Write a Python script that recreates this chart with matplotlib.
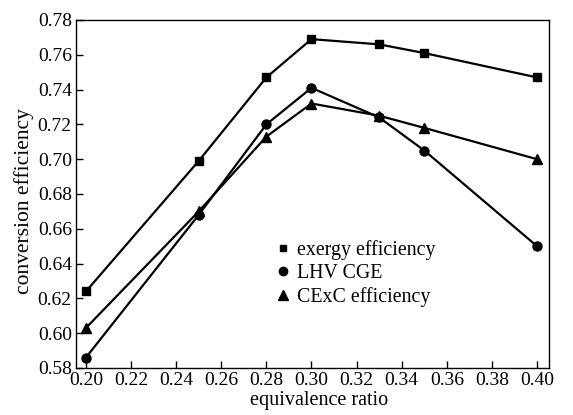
import matplotlib
matplotlib.use("Agg")
import matplotlib.pyplot as plt
from matplotlib.lines import Line2D

plt.rcParams['font.family'] = ['Liberation Serif', 'DejaVu Serif']

x = [0.20, 0.25, 0.28, 0.30, 0.33, 0.35, 0.40]
exergy = [0.624, 0.699, 0.747, 0.769, 0.766, 0.761, 0.747]
lhv = [0.586, 0.668, 0.720, 0.741, 0.724, 0.705, 0.650]
cexc = [0.603, 0.670, 0.713, 0.732, 0.725, 0.718, 0.700]
labels = ["exergy efficiency", "LHV CGE", "CExC efficiency"]
xticks = [0.20, 0.22, 0.24, 0.26, 0.28, 0.30, 0.32, 0.34, 0.36, 0.38, 0.40]
yticks = [0.58, 0.60, 0.62, 0.64, 0.66, 0.68, 0.70, 0.72, 0.74, 0.76, 0.78]

fig = plt.figure(figsize=(5.73, 4.15), dpi=100)
ax = fig.add_axes([76/573, 1-368/415, (549-76)/573, (368-20)/415])

for ys, m, lab, ms in [(exergy, 's', labels[0], 6), (lhv, 'o', labels[1], 6.5), (cexc, '^', labels[2], 7)]:
    ax.plot(x, ys, color='black', lw=1.6, marker=m, ms=ms, label=lab)

ax.set_xlim(0.1956, 0.4053)
ax.set_ylim(0.58, 0.78)
ax.set_xticks(xticks)
ax.set_xticklabels([f"{t:.2f}" for t in xticks])
ax.set_yticks(yticks)
ax.set_yticklabels([f"{t:.2f}" for t in yticks])
ax.tick_params(direction='in', length=5, width=1, labelsize=14, pad=3)
ax.tick_params(axis='x', pad=3)
for s in ax.spines.values():
    s.set_linewidth(1.0)
ax.set_xlabel("equivalence ratio", fontsize=14.5, labelpad=1, x=0.513)
ax.set_ylabel("conversion efficiency", fontsize=15.5, labelpad=3, y=0.48)

handles = [Line2D([], [], color='black', marker=m, ls='none', ms=ms)
           for m, ms in [('s', 5), ('o', 6), ('^', 6.5)]]
ax.legend(handles, labels, loc='upper left', bbox_to_anchor=(0.425, 0.368),
          frameon=False, fontsize=14.3, handlelength=0.6, handletextpad=0.4,
          labelspacing=0.2, borderaxespad=0, borderpad=0)

fig.savefig("out.png", dpi=100)
